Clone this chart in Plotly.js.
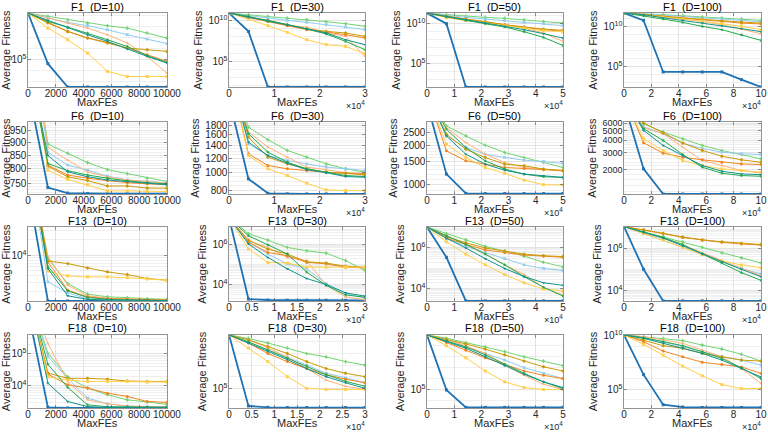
<!DOCTYPE html>
<html>
<head>
<meta charset="utf-8">
<script src="https://cdn.plot.ly/plotly-3.0.1.min.js"></script>
<style>html,body{margin:0;padding:0;background:#fff;}</style>
</head>
<body>
<div id="chart" style="width:768px;height:435px;"></div>
<script>
// Convergence curves: average fitness vs. function evaluations for nine algorithms
const seriesNames = ['Alg-1', 'Alg-2', 'Alg-3', 'Alg-4', 'Alg-5', 'Alg-6', 'Alg-7', 'Alg-8', 'Alg-9'];
const seriesColors = ['#1f72b4', '#72d572', '#93ccef', '#ffb27a', '#f28522', '#c99a0a', '#ffcf4d', '#24a84d', '#12938a'];
const seriesSymbols = ['square', 'cross', 'x', 'triangle-up', 'circle', 'diamond', 'square', 'star', 'triangle-down'];

// Evaluation checkpoints per dimension
const fesD10 = [0, 1429, 2857, 4286, 5714, 7143, 8571, 10000];
const fesD30 = [0, 4286, 8571, 12857, 17143, 21429, 25714, 30000];
const fesD50 = [0, 7143, 14286, 21429, 28571, 35714, 42857, 50000];
const fesD100 = [0, 14286, 28571, 42857, 57143, 71429, 85714, 100000];

// F1
const F1_D10 = [
  [1.8e9, 4.3e4, 316, 316, 316, 316, 316, 316],
  [1.8e9, 9.0e8, 4.5e8, 2.2e8, 1.26e8, 7.7e7, 2.7e7, 9.4e6],
  [1.8e9, 6.4e8, 2.5e8, 1.26e8, 5.4e7, 1.9e7, 7.6e6, 2.9e6],
  [1.8e9, 6.4e8, 2.2e8, 7.7e7, 1.9e7, 3.3e6, 2.0e5, 5.9e3],
  [1.8e9, 2.5e8, 3.8e7, 9.7e6, 3.8e6, 1.15e6, 2.8e5, 6.9e4],
  [1.8e9, 2.2e8, 3.8e7, 9.4e6, 3.3e6, 1.15e6, 8.1e5, 5.7e5],
  [1.8e9, 7.7e7, 6.6e6, 4.0e5, 8.4e3, 2.9e3, 2.9e3, 2.9e3],
  [1.8e9, 3.1e8, 9.5e7, 2.7e7, 6.6e6, 1.6e6, 2.3e5, 5.6e4],
  [1.8e9, 3.9e8, 7.7e7, 1.9e7, 4.7e6, 9.3e5, 2.0e5, 4.9e4]
];
const F1_D30 = [
  [7.9e10, 4.6e8, 74, 74, 74, 74, 74, 74],
  [7.9e10, 5.0e10, 3.1e10, 1.95e10, 1.22e10, 7.0e9, 4.0e9, 1.9e9],
  [7.9e10, 3.8e10, 1.95e10, 1.0e10, 5.8e9, 3.0e9, 1.56e9, 7.4e8],
  [7.9e10, 1.95e10, 7.7e9, 2.3e9, 1.56e9, 2.9e8, 1.13e8, 4.1e5],
  [7.9e10, 2.6e10, 7.7e9, 2.3e9, 7.4e8, 3.8e8, 1.8e8, 7.1e7],
  [7.9e10, 3.1e10, 1.0e10, 3.0e9, 8.9e8, 4.6e8, 2.9e8, 1.13e8],
  [7.9e10, 1.5e10, 2.3e9, 3.5e8, 4.4e7, 1.1e7, 6.8e6, 8.7e5],
  [7.9e10, 3.1e10, 7.7e9, 3.0e9, 8.9e8, 2.2e8, 2.8e7, 2.7e6],
  [7.9e10, 2.4e10, 1.0e10, 3.0e9, 8.9e8, 2.9e8, 4.4e7, 1.1e7]
];
const F1_D50 = [
  [2.1e11, 1.0e10, 120, 120, 120, 120, 120, 120],
  [2.1e11, 1.3e11, 8.2e10, 6.1e10, 4.6e10, 3.1e10, 1.9e10, 1.2e10],
  [2.1e11, 1.1e11, 6.1e10, 3.8e10, 2.4e10, 1.5e10, 9.9e9, 5.6e9],
  [2.1e11, 8.2e10, 3.8e10, 1.6e10, 7.4e9, 2.9e9, 6.8e8, 6.1e7],
  [2.1e11, 6.8e10, 3.1e10, 1.5e10, 6.8e9, 3.1e9, 1.8e9, 1.1e9],
  [2.1e11, 8.2e10, 3.8e10, 1.8e10, 7.4e9, 3.8e9, 2.1e9, 1.5e9],
  [2.1e11, 5.6e10, 2.6e10, 1.2e10, 5.6e9, 2.6e9, 1.3e9, 9.9e8],
  [2.1e11, 6.8e10, 2.6e10, 9.9e9, 3.8e9, 9.9e8, 1.9e8, 1.9e7],
  [2.1e11, 8.2e10, 3.1e10, 1.2e10, 4.6e9, 1.8e9, 5.6e8, 1.6e8]
];
const F1_D100 = [
  [4.7e11, 5.7e10, 2.0e4, 2.0e4, 2.0e4, 2.0e4, 2.2e3, 263],
  [4.7e11, 3.9e11, 2.9e11, 2.2e11, 1.5e11, 1.1e11, 8.3e10, 5.7e10],
  [4.7e11, 3.9e11, 2.6e11, 1.8e11, 1.1e11, 8.3e10, 5.7e10, 3.9e10],
  [4.7e11, 2.9e11, 1.5e11, 8.3e10, 4.2e10, 1.6e10, 4.7e9, 1.2e9],
  [4.7e11, 2.9e11, 1.8e11, 1.0e11, 5.7e10, 3.9e10, 2.6e10, 2.0e10],
  [4.7e11, 3.2e11, 2.0e11, 1.2e11, 7.6e10, 4.7e10, 3.5e10, 2.6e10],
  [4.7e11, 2.9e11, 1.5e11, 8.3e10, 4.7e10, 2.2e10, 1.0e10, 3.9e9],
  [4.7e11, 2.2e11, 8.3e10, 3.2e10, 1.0e10, 3.9e9, 9.2e8, 1.8e8],
  [4.7e11, 2.9e11, 1.2e11, 5.7e10, 2.6e10, 1.2e10, 5.2e9, 2.2e9]
];

// F6
const F6_D10 = [
  [1150, 736, 718, 716, 716, 716, 716, 716],
  [1600, 893, 857, 822, 797, 783, 767, 756],
  [1600, 861, 813, 795, 774, 761, 756, 752],
  [1600, 880, 831, 789, 772, 761, 756, 750],
  [1400, 813, 778, 767, 759, 752, 748, 745],
  [1400, 809, 772, 759, 741, 741, 734, 734],
  [1400, 795, 763, 745, 725, 725, 723, 723],
  [1300, 819, 793, 778, 767, 758, 752, 748],
  [1300, 849, 789, 772, 761, 756, 750, 745]
];
const F6_D30 = [
  [2500, 926, 774, 768, 768, 768, 768, 768],
  [3500, 1763, 1506, 1318, 1213, 1116, 1049, 1006],
  [3500, 1432, 1238, 1163, 1116, 1071, 1049, 1027],
  [3500, 1657, 1374, 1213, 1071, 1038, 1000, 965],
  [3500, 1264, 1093, 1049, 1027, 1006, 995, 990],
  [3500, 1556, 1213, 1116, 1049, 1006, 990, 975],
  [3500, 1238, 1049, 965, 877, 807, 800, 800],
  [3500, 1623, 1291, 1139, 1049, 1006, 965, 953],
  [3500, 1462, 1238, 1125, 1038, 1000, 953, 945]
];
const F6_D50 = [
  [4200, 1205, 859, 855, 855, 855, 855, 855],
  [5000, 2809, 2358, 2003, 1762, 1614, 1478, 1354],
  [5000, 2358, 1923, 1711, 1614, 1540, 1504, 1453],
  [5000, 2729, 2098, 1711, 1478, 1354, 1316, 1290],
  [5000, 1814, 1522, 1436, 1354, 1330, 1300, 1278],
  [5000, 2428, 1867, 1614, 1436, 1395, 1316, 1278],
  [5000, 2038, 1614, 1354, 1220, 1085, 1000, 995],
  [5000, 2650, 1923, 1522, 1316, 1205, 1150, 1137],
  [5000, 2358, 1711, 1436, 1290, 1205, 1170, 1137]
];
const F6_D100 = [
  [9600, 2048, 1137, 1137, 1137, 1137, 1137, 1137],
  [11000, 5906, 4856, 4150, 3546, 3153, 2869, 2591],
  [11000, 5500, 4668, 3748, 3300, 3032, 2915, 2869],
  [11000, 5400, 4668, 3410, 2491, 2219, 1969, 1860],
  [11000, 3777, 2961, 2695, 2531, 2395, 2303, 2268],
  [11000, 6000, 4778, 3748, 3153, 2759, 2531, 2395],
  [11000, 4150, 3153, 2491, 2215, 2048, 1969, 1896],
  [11000, 5251, 3990, 2869, 2130, 1849, 1751, 1724],
  [11000, 5049, 3546, 2803, 2215, 1938, 1820, 1790]
];

// F13
const F13_D10 = [
  [2e5, 1320, 1320, 1320, 1320, 1320, 1320, 1320],
  [1e6, 8590, 2858, 1786, 1589, 1520, 1455, 1413],
  [1e6, 3076, 1891, 1455, 1380, 1360, 1340, 1340],
  [1e6, 9400, 2655, 1660, 1496, 1460, 1440, 1380],
  [1e6, 7413, 2130, 1589, 1455, 1420, 1380, 1380],
  [1e6, 7755, 6894, 5694, 4775, 4246, 3560, 3308],
  [1e6, 4918, 4005, 3832, 3832, 3720, 3509, 3308],
  [1e6, 6120, 2066, 1542, 1420, 1380, 1360, 1360],
  [1e6, 5528, 1660, 1413, 1380, 1360, 1360, 1340]
];
const F13_D30 = [
  [2.3e7, 1860, 1660, 1620, 1600, 1600, 1600, 1600],
  [2.3e7, 3.6e6, 1.7e6, 7.3e5, 5.0e5, 3.8e5, 1.6e5, 5.1e4],
  [2.3e7, 1.5e6, 3.4e5, 1.1e5, 6.2e4, 1.1e4, 3.6e3, 2.0e3],
  [2.3e7, 1.6e6, 7.3e5, 2.3e5, 1.6e5, 9.2e3, 2.4e3, 1.7e3],
  [2.3e7, 1.3e6, 4.1e5, 2.8e5, 1.3e5, 1.1e5, 7.4e4, 6.9e4],
  [2.3e7, 1.7e6, 6.0e5, 3.4e5, 1.4e5, 1.2e5, 8.3e4, 7.4e4],
  [2.3e7, 6.1e5, 1.3e5, 1.2e5, 7.5e4, 7.5e4, 7.5e4, 7.5e4],
  [2.3e7, 2.8e6, 1.0e6, 3.4e5, 4.2e4, 9.1e3, 3.0e3, 2.3e3],
  [2.3e7, 1.1e6, 2.3e5, 6.2e4, 2.0e4, 1.0e4, 3.8e3, 2.6e3]
];
const F13_D50 = [
  [1.05e7, 3.5e5, 2.6e3, 2.6e3, 2.6e3, 2.6e3, 2.6e3, 2.6e3],
  [1.05e7, 5e6, 2.5e6, 1.2e6, 7e5, 4e5, 2e5, 1.2e5],
  [1.05e7, 3e6, 1.2e6, 6e5, 3e5, 1.5e5, 1e5, 8e4],
  [1.05e7, 4e6, 1.5e6, 5e5, 1.5e5, 5e4, 1.2e4, 5e3],
  [1.05e7, 3e6, 1.5e6, 8e5, 6e5, 4.5e5, 4e5, 3.5e5],
  [1.05e7, 3.5e6, 1.8e6, 1e6, 7e5, 5e5, 4.2e5, 3.8e5],
  [1.05e7, 2e6, 5e5, 1.5e5, 5e4, 2e4, 1e4, 8e3],
  [1.05e7, 4e6, 1.5e6, 5e5, 1.5e5, 4e4, 1.2e4, 4.5e3],
  [1.05e7, 3e6, 1e6, 3e5, 1e5, 4e4, 2e4, 1.5e4]
];
const F13_D100 = [
  [1.05e7, 1e5, 3.2e3, 3.2e3, 3.2e3, 3.2e3, 3.2e3, 3.2e3],
  [1.05e7, 6e6, 3.5e6, 2e6, 1.1e6, 6e5, 3.5e5, 2e5],
  [1.05e7, 5e6, 2.5e6, 1.1e6, 5e5, 2.2e5, 1.1e5, 6e4],
  [1.05e7, 5.5e6, 3e6, 1.4e6, 6e5, 2.5e5, 1.1e5, 5e4],
  [1.05e7, 7.5e6, 5e6, 3.2e6, 2.4e6, 1.9e6, 1.6e6, 1.4e6],
  [1.05e7, 7.5e6, 5e6, 3.4e6, 2.5e6, 2e6, 1.7e6, 1.5e6],
  [1.05e7, 5e6, 2.5e6, 1.1e6, 5e5, 2.5e5, 1.6e5, 1.2e5],
  [1.05e7, 6e6, 3.2e6, 1.5e6, 5.5e5, 2e5, 7e4, 3e4],
  [1.05e7, 5.5e6, 3e6, 1.3e6, 5.5e5, 2.3e5, 1e5, 4.5e4]
];

// F18
const F18_D10 = [
  [2.2e6, 2.1e3, 2.0e3, 2.0e3, 2.0e3, 2.0e3, 2.0e3, 2.0e3],
  [1e7, 1.04e5, 1.9e4, 8.4e3, 5.2e3, 3.6e3, 3.1e3, 2.6e3],
  [1e7, 8.2e4, 1.7e4, 4.1e3, 2.7e3, 2.3e3, 2.2e3, 2.2e3],
  [1e7, 2.1e5, 1.36e4, 3.6e3, 2.7e3, 2.3e3, 2.2e3, 2.2e3],
  [1e7, 2.3e4, 1.07e4, 8.4e3, 5.8e3, 4.6e3, 3.2e3, 3.0e3],
  [1e7, 2.5e4, 1.7e4, 1.7e4, 1.6e4, 1.4e4, 1.36e4, 1.36e4],
  [1e7, 1.9e4, 1.5e4, 1.36e4, 1.36e4, 1.36e4, 1.3e4, 1.3e4],
  [1e7, 4.7e4, 8.8e3, 2.5e3, 2.2e3, 2.2e3, 2.1e3, 2.1e3],
  [1e7, 1.2e4, 3.2e3, 2.2e3, 2.1e3, 2.1e3, 2.1e3, 2.1e3]
];
const F18_D30 = [
  [4e9, 3.0e3, 2.3e3, 2.2e3, 2.2e3, 2.2e3, 2.2e3, 2.2e3],
  [4e9, 2e9, 8e8, 3e8, 1e8, 5e7, 2e7, 1e7],
  [4e9, 1e9, 2e8, 5e7, 1e7, 2e6, 8e5, 3e5],
  [4e9, 1.5e9, 3e8, 5e7, 5e6, 5e5, 1.5e5, 8e4],
  [4e9, 8e8, 1e8, 2e7, 5e6, 1.5e6, 6e5, 3e5],
  [4e9, 1.5e9, 4e8, 1e8, 2e7, 5e6, 2e6, 1e6],
  [4e9, 3e8, 2e7, 1e6, 1e5, 8e4, 8e4, 8e4],
  [4e9, 1e9, 2e8, 4e7, 8e6, 1.5e6, 4e5, 1.5e5],
  [4e9, 8e8, 1.5e8, 3e7, 5e6, 1e6, 3e5, 1e5]
];
const F18_D50 = [
  [1e10, 9e4, 2.3e3, 2.3e3, 2.3e3, 2.3e3, 2.3e3, 2.3e3],
  [1e10, 5e9, 2e9, 8e8, 3e8, 1e8, 4e7, 1.5e7],
  [1e10, 3e9, 8e8, 2e8, 5e7, 1e7, 3e6, 1e6],
  [1e10, 4e9, 1e9, 2e8, 2e7, 2e6, 3e5, 1e5],
  [1e10, 2e9, 4e8, 8e7, 2e7, 5e6, 2e6, 1e6],
  [1e10, 4e9, 1.5e9, 5e8, 1.5e8, 4e7, 1.2e7, 5e6],
  [1e10, 1e9, 8e7, 5e6, 5e5, 1.5e5, 1e5, 1e5],
  [1e10, 3e9, 8e8, 1.5e8, 2e7, 3e6, 5e5, 1.2e5],
  [1e10, 2.5e9, 6e8, 1e8, 1.5e7, 2.5e6, 5e5, 1.5e5]
];
const F18_D100 = [
  [1.15e10, 2.3e6, 3.6e3, 2.2e3, 2.0e3, 2.0e3, 2.0e3, 2.0e3],
  [1.15e10, 7.9e9, 5.6e9, 3.4e9, 1.3e9, 5.6e8, 1.8e8, 4.2e7],
  [1.15e10, 5.6e9, 2.7e9, 9.2e8, 3.1e8, 1.07e8, 5.2e7, 1.8e7],
  [1.15e10, 8.0e9, 3.9e9, 1.9e9, 4.5e8, 1.07e8, 8.6e6, 3.4e5],
  [1.15e10, 2.7e9, 3.6e8, 1.07e8, 3.2e7, 2.0e7, 1.2e7, 3.0e6],
  [1.15e10, 3.9e9, 1.15e9, 6.5e8, 2.2e8, 1.07e8, 5.2e7, 4.2e7],
  [1.15e10, 1.5e9, 1.5e8, 1.4e7, 1.8e6, 2.7e5, 1.15e5, 1.15e5],
  [1.15e10, 6.5e9, 2.7e9, 1.15e9, 3.1e8, 7.4e7, 9.9e6, 9.9e5],
  [1.15e10, 5.6e9, 1.9e9, 6.5e8, 2.2e8, 5.2e7, 8.6e6, 1.4e6]
];

// Axis tick sets
const xTicksD10 = [0, 2000, 4000, 6000, 8000, 10000];
const xTicksD30 = [0, 10000, 20000, 30000];
const xTicksD30half = [0, 5000, 10000, 15000, 20000, 25000, 30000];
const xTicksD50 = [0, 10000, 20000, 30000, 40000, 50000];
const xTicksD100 = [0, 20000, 40000, 60000, 80000, 100000];
const xLabelsD10 = ['0', '2000', '4000', '6000', '8000', '10000'];
const xLabelsD30 = ['0', '1', '2', '3'];
const xLabelsD30half = ['0', '0.5', '1', '1.5', '2', '2.5', '3'];
const xLabelsD50 = ['0', '1', '2', '3', '4', '5'];
const xLabelsD100 = ['0', '2', '4', '6', '8', '10'];

const panelTitles = [
  ['F1  (D=10)', 'F1  (D=30)', 'F1  (D=50)', 'F1  (D=100)'],
  ['F6  (D=10)', 'F6  (D=30)', 'F6  (D=50)', 'F6  (D=100)'],
  ['F13  (D=10)', 'F13  (D=30)', 'F13  (D=50)', 'F13  (D=100)'],
  ['F18  (D=10)', 'F18  (D=30)', 'F18  (D=50)', 'F18  (D=100)']
];
const panelData = [
  [F1_D10, F1_D30, F1_D50, F1_D100],
  [F6_D10, F6_D30, F6_D50, F6_D100],
  [F13_D10, F13_D30, F13_D50, F13_D100],
  [F18_D10, F18_D30, F18_D50, F18_D100]
];
const fesByCol = [fesD10, fesD30, fesD50, fesD100];

// y-axis ranges (log10 units) and labelled ticks per panel
const yRanges = [
  [[2.5, 9.26], [1.87, 10.9], [2.08, 11.33], [2.42, 11.67]],
  [[2.8543, 2.9934], [2.8848, 3.2735], [2.929, 3.479], [3.0557, 3.7884]],
  [[3.12, 4.54], [3.17, 6.89], [3.41, 7.02], [3.5, 7.0]],
  [[3.30, 5.59], [3.3, 9.6], [3.3, 10.0], [3.25, 10.06]]
];
const yTicks = [
  [[1e5], [1e5, 1e10], [1e5, 1e10], [1e5, 1e10]],
  [[750, 800, 850, 900, 950], [800, 1000, 1200, 1400, 1600, 1800], [1000, 1500, 2000, 2500], [2000, 3000, 4000, 5000, 6000]],
  [[1e4], [1e4, 1e6], [1e4, 1e6], [1e4, 1e6]],
  [[1e4, 1e5], [1e5], [1e5], [1e5, 1e10]]
];

// layout geometry (paper fractions)
const colDomains = [[0.0365, 0.2174], [0.2982, 0.4753], [0.556, 0.733], [0.8125, 0.9909]];
const rowDomains = [[0.800, 0.970], [0.554, 0.7195], [0.308, 0.478], [0.062, 0.230]];

function tickText(v) {
  if (v >= 1e4 && Math.abs(Math.log10(v) - Math.round(Math.log10(v))) < 1e-9) {
    return '10<sup>' + Math.round(Math.log10(v)) + '</sup>';
  }
  return String(v);
}

// minor grid positions: 2..9 x 10^k between range limits (or whole decades for wide ranges)
function minorVals(range, majors, decadesOnly, linearStep) {
  const out = [];
  if (linearStep) {
    const lo = Math.pow(10, range[0]), hi = Math.pow(10, range[1]);
    for (let v = Math.ceil(lo / linearStep) * linearStep; v <= hi; v += linearStep) {
      if (majors.indexOf(v) < 0) out.push(v);
    }
    return out;
  }
  for (let k = Math.floor(range[0]); k <= Math.ceil(range[1]); k++) {
    const mults = decadesOnly ? [1] : [1, 2, 3, 4, 5, 6, 7, 8, 9];
    mults.forEach(m => {
      const v = m * Math.pow(10, k);
      const lv = Math.log10(v);
      if (lv >= range[0] && lv <= range[1] && majors.indexOf(v) < 0) out.push(v);
    });
  }
  return out;
}
const minorSteps = [
  [null, null, null, null],
  [10, 50, 100, 200],
  [null, null, null, null],
  [null, null, null, null]
];

const FONT = 'Liberation Sans, Arial, Helvetica, sans-serif';
const AXIS_COLOR = '#262626';
const BOX_COLOR = '#4d4d4d';
const traces = [];
const layout = {
  width: 768, height: 435,
  margin: {l: 0, r: 0, t: 0, b: 0},
  paper_bgcolor: '#ffffff', plot_bgcolor: '#ffffff',
  showlegend: false,
  font: {family: FONT, size: 10, color: AXIS_COLOR},
  annotations: []
};

for (let r = 0; r < 4; r++) {
  for (let c = 0; c < 4; c++) {
    const idx = r * 4 + c + 1;
    const xa = 'x' + (idx === 1 ? '' : idx);
    const ya = 'y' + (idx === 1 ? '' : idx);
    const xKey = 'xaxis' + (idx === 1 ? '' : idx);
    const yKey = 'yaxis' + (idx === 1 ? '' : idx);
    const data = panelData[r][c];
    const fes = fesByCol[c];
    data.forEach((vals, s) => {
      traces.push({
        x: fes, y: vals, xaxis: xa, yaxis: ya,
        type: 'scatter', mode: 'lines+markers',
        name: seriesNames[s],
        line: {color: seriesColors[s], width: s === 0 ? 1.8 : 1.0},
        marker: {color: seriesColors[s], size: 3, symbol: seriesSymbols[s]},
        cliponaxis: true, hoverinfo: 'skip'
      });
    });

    let xt, xl;
    if (c === 0) { xt = xTicksD10; xl = xLabelsD10; }
    else if (c === 1) {
      if (r >= 2) { xt = xTicksD30half; xl = xLabelsD30half; }
      else { xt = xTicksD30; xl = xLabelsD30; }
    }
    else if (c === 2) { xt = xTicksD50; xl = xLabelsD50; }
    else { xt = xTicksD100; xl = xLabelsD100; }

    const yr = yRanges[r][c];
    const yt = yTicks[r][c];
    const wide = (yr[1] - yr[0]) > 5;
    const common = {
      showline: true, mirror: 'ticks', linecolor: BOX_COLOR, linewidth: 0.6,
      ticks: 'inside', ticklen: 3, tickcolor: BOX_COLOR, tickwidth: 0.6,
      showgrid: true, gridcolor: '#e3e3e3', gridwidth: 1, zeroline: false,
      tickfont: {family: FONT, size: 10, color: AXIS_COLOR}
    };
    layout[xKey] = Object.assign({}, common, {
      domain: colDomains[c], anchor: ya,
      range: [0, fes[fes.length - 1]],
      tickmode: 'array', tickvals: xt, ticktext: xl,
      ticklabelstandoff: -3
    });
    layout[yKey] = Object.assign({}, common, {
      domain: rowDomains[r], anchor: xa, type: 'log',
      range: yr,
      tickmode: 'array', tickvals: yt, ticktext: yt.map(tickText),
      ticklabelstandoff: -1,
      tickfont: {family: FONT, size: (r === 1 && c === 3) ? 9 : 10, color: AXIS_COLOR},
      title: {text: 'Average Fitness', font: {family: FONT, size: 11, color: AXIS_COLOR}, standoff: 3},
      minor: {
        tickmode: 'array',
        tickvals: minorVals(yr, yt, wide, minorSteps[r][c]),
        showgrid: true, gridcolor: '#efefef', gridwidth: 1, ticks: ''
      }
    });

    const xMid = (colDomains[c][0] + colDomains[c][1]) / 2;
    // panel title
    layout.annotations.push({
      xref: 'paper', yref: 'paper',
      x: xMid, y: rowDomains[r][1],
      xanchor: 'center', yanchor: 'middle', yshift: 6.5,
      text: panelTitles[r][c].replace('  ', '\u00a0 '), showarrow: false,
      font: {family: FONT, size: 11, color: '#000000'}
    });
    // x-axis label
    layout.annotations.push({
      xref: 'paper', yref: 'paper',
      x: xMid, y: rowDomains[r][0],
      xanchor: 'center', yanchor: 'middle', yshift: -15,
      text: 'MaxFEs', showarrow: false,
      font: {family: FONT, size: 11, color: AXIS_COLOR}
    });
    // exponent label for scaled x ticks
    if (c > 0) {
      layout.annotations.push({
        xref: 'paper', yref: 'paper',
        x: colDomains[c][1], y: rowDomains[r][0],
        xanchor: 'right', yanchor: 'middle', yshift: -18, xshift: 2,
        text: '\u00d710<sup>4</sup>', showarrow: false,
        font: {family: FONT, size: 9, color: AXIS_COLOR}
      });
    }
  }
}

Plotly.newPlot('chart', traces, layout, {staticPlot: true, displayModeBar: false});
</script>
</body>
</html>
